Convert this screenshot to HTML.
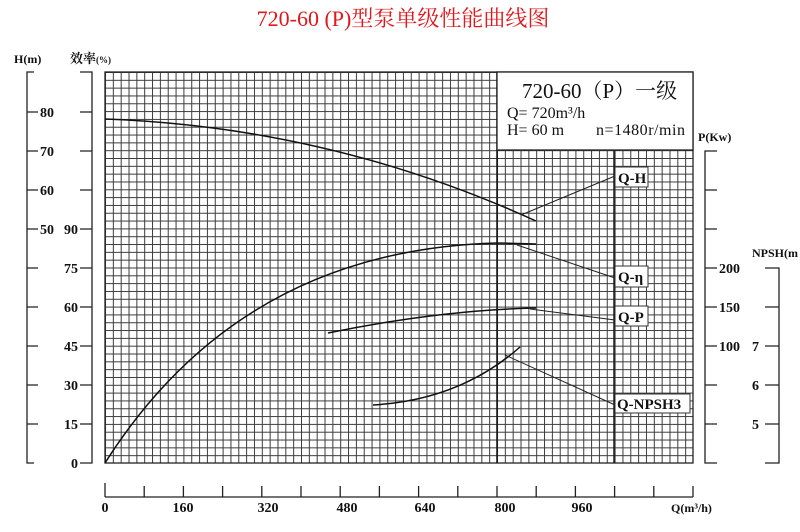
<!DOCTYPE html>
<html><head><meta charset="utf-8"><style>
html,body{margin:0;padding:0;background:#fff;}
svg{display:block;}
text{font-family:"Liberation Serif","Noto Serif CJK SC",serif;fill:#111;}
</style></head><body>
<svg width="800" height="532" viewBox="0 0 800 532" xmlns="http://www.w3.org/2000/svg">
<defs>
<pattern id="g" x="105" y="72" width="7.84" height="7.82" patternUnits="userSpaceOnUse">
<path d="M0.5 0V7.82M0 0.5H7.84" stroke="#3a3a3a" stroke-width="1" fill="none"/>
</pattern>
</defs>
<rect width="800" height="532" fill="#fff"/>
<text x="403" y="26" text-anchor="middle" font-size="22" style="fill:#e0181c">720-60 (P)型泵单级性能曲线图</text>

<rect x="105" y="72" width="588" height="391" fill="url(#g)"/>
<rect x="105" y="72" width="588" height="391" fill="none" stroke="#222" stroke-width="1.3"/>
<line x1="497" y1="72" x2="497" y2="463" stroke="#111" stroke-width="1.5"/>
<line x1="614" y1="150" x2="614" y2="463" stroke="#111" stroke-width="1.4"/>
<rect x="497" y="72" width="196" height="78" fill="#fff" stroke="#222" stroke-width="1.3"/>
<text x="522" y="98" font-size="21">720-60（P）一级</text>
<text x="507" y="118" font-size="16">Q= 720m³/h</text>
<text x="507" y="135" font-size="16">H= 60 m</text>
<text x="596" y="135" font-size="16" textLength="89">n=1480r/min</text>

<g stroke="#222" stroke-width="1.3" fill="none">
<path d="M34 72H27V463H34"/>
<path d="M27 112H38M27 151H38M27 190H38M27 229H38M27 268H38M27 307H38M27 346H38M27 385H38M27 424H38"/>
<path d="M80 72H92V463H80"/>
<path d="M80 112H92M80 151H92M80 190H92M80 229H92M80 268H92M80 307H92M80 346H92M80 385H92M80 424H92"/>
<path d="M717 151H705V463H717"/>
<path d="M705 190H717M705 229H717M705 268H717M705 307H717M705 346H717M705 385H717M705 424H717"/>
<path d="M765 268H779V463H765"/>
<path d="M765 307H779M765 346H779M765 385H779M765 424H779"/>
<path d="M105 497H693"/>
<path d="M105 483V497M144.2 486V497M183.4 486V497M222.6 486V497M261.8 486V497M301 486V497M340.2 486V497M379.4 486V497M418.6 486V497M457.8 486V497M497 486V497M536.2 486V497M575.4 486V497M614.6 486V497M653.8 486V497M693 486V497"/>
</g>
<g font-size="14" font-weight="bold">
<text x="14" y="63" font-size="12">H(m)</text>
<text x="70" y="63" font-size="13">效率<tspan font-size="9">(%)</tspan></text>
<text x="40" y="117">80</text><text x="40" y="156">70</text><text x="40" y="195">60</text><text x="40" y="234">50</text>
<text x="78" y="234" text-anchor="end">90</text><text x="78" y="273" text-anchor="end">75</text><text x="78" y="312" text-anchor="end">60</text>
<text x="78" y="351" text-anchor="end">45</text><text x="78" y="390" text-anchor="end">30</text><text x="78" y="429" text-anchor="end">15</text><text x="78" y="468" text-anchor="end">0</text>
<text x="698" y="141" font-size="12">P(Kw)</text>
<text x="719" y="273">200</text><text x="719" y="312">150</text><text x="719" y="351">100</text>
<text x="752" y="257" font-size="12">NPSH(m</text>
<text x="752" y="351">7</text><text x="752" y="390">6</text><text x="752" y="429">5</text>
<text x="105" y="512" text-anchor="middle">0</text><text x="183" y="512" text-anchor="middle">160</text>
<text x="268" y="512" text-anchor="middle">320</text><text x="347" y="512" text-anchor="middle">480</text>
<text x="425" y="512" text-anchor="middle">640</text><text x="505" y="512" text-anchor="middle">800</text>
<text x="582" y="512" text-anchor="middle">960</text>
<text x="671" y="512" font-size="12">Q(m³/h)</text>
</g>

<g fill="none" stroke="#111" stroke-width="1.5">
<path d="M105 119 Q330 127 536 221"/>
<path d="M105 463 Q240 250 497 243 L536 244"/>
<path d="M328 333 Q440 310 536 308"/>
<path d="M373 405 Q460 400 520 347"/>
</g>
<g fill="none" stroke="#222" stroke-width="1">
<path d="M521 215L615 176"/>
<path d="M517 245L615 278"/>
<path d="M530 309L615 320"/>
<path d="M505 355L615 405"/>
</g>
<g font-size="15" font-weight="bold">
<rect x="615" y="167" width="33" height="20" fill="#fff" stroke="#333"/>
<text x="618" y="183">Q-H</text>
<rect x="615" y="266" width="33" height="21" fill="#fff" stroke="#333"/>
<text x="618" y="282">Q-η</text>
<rect x="615" y="306" width="33" height="20" fill="#fff" stroke="#333"/>
<text x="618" y="322">Q-P</text>
<rect x="615" y="394" width="75" height="19" fill="#fff" stroke="#333"/>
<text x="617" y="409">Q-NPSH3</text>
</g>
</svg>
</body></html>
